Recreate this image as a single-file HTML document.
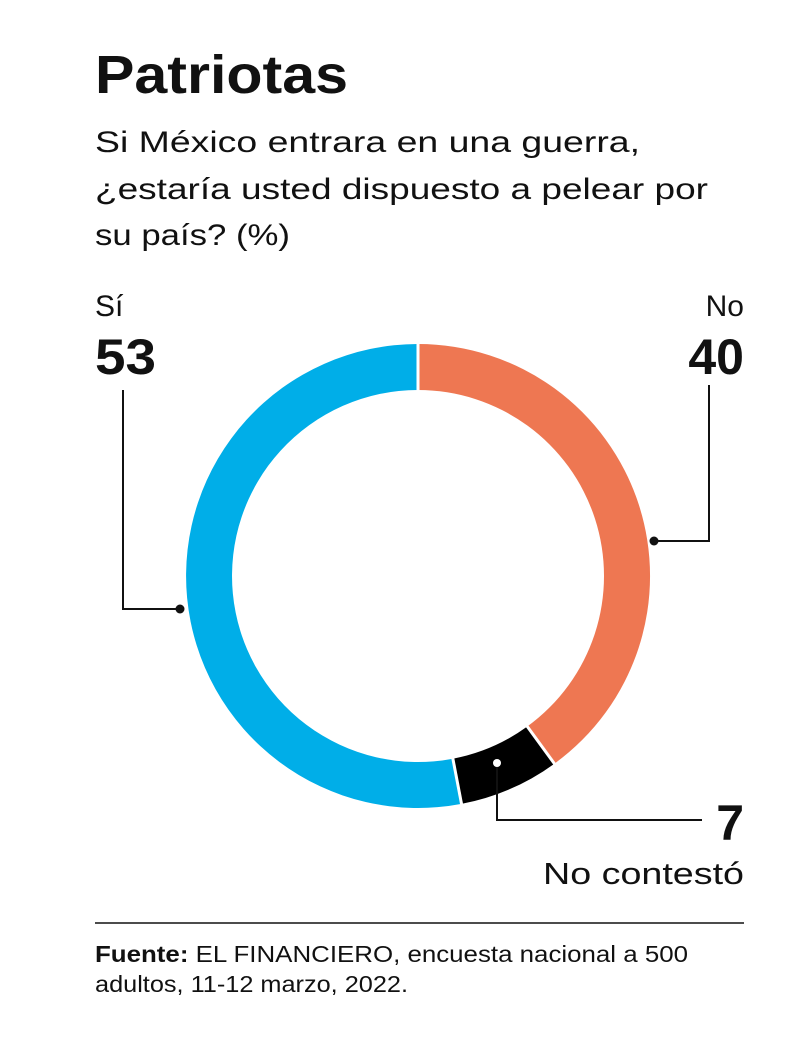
<!DOCTYPE html>
<html><head><meta charset="utf-8"><style>
html,body{margin:0;padding:0;background:#fff;}
body{width:800px;height:1049px;overflow:hidden;}
</style></head><body>
<svg width="800" height="1049" xmlns="http://www.w3.org/2000/svg" font-family="Liberation Sans, sans-serif">
<text x="95" y="93" font-size="54" font-weight="bold" fill="#111" textLength="253" lengthAdjust="spacingAndGlyphs">Patriotas</text>
<text x="95" y="152" font-size="30" fill="#111" textLength="545" lengthAdjust="spacingAndGlyphs">Si México entrara en una guerra,</text>
<text x="95" y="199" font-size="30" fill="#111" textLength="613" lengthAdjust="spacingAndGlyphs">¿estaría usted dispuesto a pelear por</text>
<text x="95" y="245" font-size="30" fill="#111" textLength="195" lengthAdjust="spacingAndGlyphs">su país? (%)</text>
<path d="M418,344 A232,232 0 0 1 554.4,763.7 L527.3,726.5 A186,186 0 0 0 418,390 Z" fill="#EE7752"/>
<path d="M554.4,763.7 A232,232 0 0 1 461.5,803.9 L452.9,758.7 A186,186 0 0 0 527.3,726.5 Z" fill="#000"/>
<path d="M461.5,803.9 A232,232 0 1 1 418,344 L418,390 A186,186 0 1 0 452.9,758.7 Z" fill="#00AEE8"/>
<line x1="418" y1="342" x2="418" y2="392" stroke="#fff" stroke-width="3"/>
<line x1="555.6" y1="765.3" x2="526.1" y2="724.9" stroke="#fff" stroke-width="3"/>
<line x1="461.9" y1="805.9" x2="452.5" y2="756.7" stroke="#fff" stroke-width="3"/>
<polyline points="180,609 123,609 123,390" fill="none" stroke="#111" stroke-width="2"/>
<circle cx="180" cy="609" r="4.5" fill="#111"/>
<polyline points="654,541 709,541 709,385" fill="none" stroke="#111" stroke-width="2"/>
<circle cx="654" cy="541" r="4.5" fill="#111"/>
<polyline points="497,763 497,820 702,820" fill="none" stroke="#111" stroke-width="2"/>
<circle cx="497" cy="763" r="4" fill="#fff"/>
<text x="95" y="316" font-size="30" fill="#111">Sí</text>
<text x="95" y="374" font-size="50" font-weight="bold" fill="#111" textLength="61" lengthAdjust="spacingAndGlyphs">53</text>
<text x="744" y="316" font-size="30" fill="#111" text-anchor="end">No</text>
<text x="744" y="374" font-size="50" font-weight="bold" fill="#111" text-anchor="end">40</text>
<text x="744" y="840" font-size="50" font-weight="bold" fill="#111" text-anchor="end">7</text>
<text x="543" y="884" font-size="31" fill="#111" textLength="201" lengthAdjust="spacingAndGlyphs">No contestó</text>
<line x1="95" y1="923" x2="744" y2="923" stroke="#111" stroke-width="1.5"/>
<text x="95" y="962" font-size="23" fill="#111" textLength="593" lengthAdjust="spacingAndGlyphs"><tspan font-weight="bold">Fuente:</tspan> EL FINANCIERO, encuesta nacional a 500</text>
<text x="95" y="992" font-size="23" fill="#111" textLength="313" lengthAdjust="spacingAndGlyphs">adultos, 11-12 marzo, 2022.</text>
</svg>
</body></html>
